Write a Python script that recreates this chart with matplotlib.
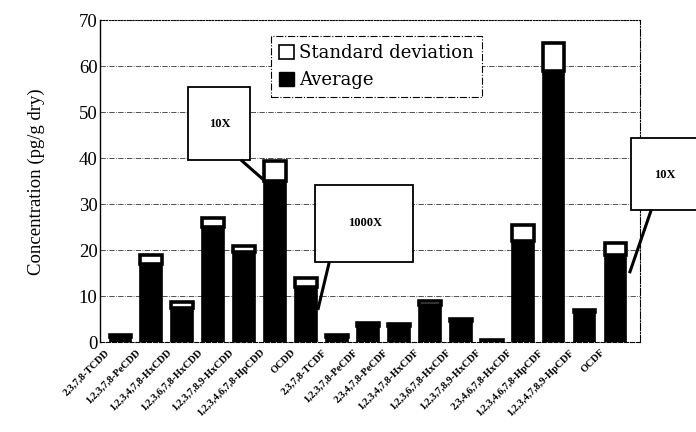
import matplotlib
matplotlib.use("Agg")
import matplotlib.pyplot as plt
from matplotlib.patches import Patch, Rectangle
import matplotlib.transforms as mtransforms
import numpy as np

plt.rcParams['font.family'] = ['Liberation Serif', 'DejaVu Serif']

congeners = ['2,3,7,8-TCDD', '1,2,3,7,8-PeCDD', '1,2,3,4,7,8-HxCDD',
             '1,2,3,6,7,8-HxCDD', '1,2,3,7,8,9-HxCDD', '1,2,3,4,6,7,8-HpCDD',
             'OCDD', '2,3,7,8-TCDF', '1,2,3,7,8-PeCDF', '2,3,4,7,8-PeCDF',
             '1,2,3,4,7,8-HxCDF', '1,2,3,6,7,8-HxCDF', '1,2,3,7,8,9-HxCDF',
             '2,3,4,6,7,8-HxCDF', '1,2,3,4,6,7,8-HpCDF', '1,2,3,4,7,8,9-HpCDF',
             'OCDF']
average = [1.2, 17.0, 7.5, 25.0, 19.5, 35.0, 12.0, 1.2, 3.5, 3.5,
           8.0, 4.5, 0.3, 22.0, 59.0, 6.5, 19.0]
std_dev = [0.4, 2.0, 1.2, 2.0, 1.5, 4.5, 2.0, 0.3, 0.6, 0.5,
           1.0, 0.5, 0.2, 3.5, 6.0, 0.5, 2.5]
yticks = [0, 10, 20, 30, 40, 50, 60, 70]

fig = plt.figure(figsize=(6.96, 4.32), dpi=100)
ax = fig.add_axes([0.144, 0.208, 0.776, 0.745])

x = np.arange(len(congeners))
w = 0.7
ax.bar(x, average, width=w, color='black', edgecolor='black', linewidth=1.2, zorder=3)
ax.bar(x, std_dev, width=w, bottom=average, color='white', edgecolor='black',
       linewidth=2.6, zorder=3)

ax.set_xlim(-0.65, 16.8)
ax.set_ylim(0, 70)
ax.set_yticks(yticks)
ax.set_yticklabels([str(t) for t in yticks], fontsize=13.5)
ax.tick_params(axis='y', length=0, pad=2)
ax.tick_params(axis='x', length=0, pad=4)
ax.set_xticks(x)
ax.set_xticklabels(congeners, rotation=45, ha='right', rotation_mode='anchor',
                   fontsize=7.5, fontweight='bold')
offset = mtransforms.ScaledTranslation(-11 / 72, 0, fig.dpi_scale_trans)
for lab in ax.get_xticklabels():
    lab.set_transform(lab.get_transform() + offset)

ax.yaxis.grid(True, linestyle='-.', color='#333333', linewidth=0.6, zorder=0)
ax.set_axisbelow(True)
ax.spines['left'].set_linewidth(1.0)
ax.spines['bottom'].set_linestyle('--')
ax.spines['bottom'].set_linewidth(0.8)
ax.spines['top'].set_linestyle(':')
ax.spines['top'].set_linewidth(0.8)
ax.spines['right'].set_linestyle('-.')
ax.spines['right'].set_linewidth(0.8)

ax.set_ylabel('Concentration (pg/g dry)', fontsize=13.5, labelpad=24)

handles = [Patch(facecolor='white', edgecolor='black', linewidth=1.2, label='Standard deviation'),
           Patch(facecolor='black', edgecolor='black', label='Average')]
leg = ax.legend(handles=handles, loc='upper left', bbox_to_anchor=(0.3, 0.98),
                prop={'family': 'DejaVu Serif', 'size': 13}, frameon=True,
                fancybox=False, framealpha=1, edgecolor='black',
                handlelength=0.8, handleheight=0.8, handletextpad=0.3,
                borderpad=0.45, labelspacing=0.5)
leg.get_frame().set_linestyle('-.')
leg.get_frame().set_linewidth(0.8)
leg.set_zorder(5)

# callout boxes: (x0, y0, x1, y1) in data units, label, text position, pointer start, pointer end
callouts = [((2.2, 39.6, 4.2, 55.4), '10X', (3.2, 47.5), (3.9, 39.6), (4.85, 34.0)),
            ((6.3, 17.4, 9.45, 34.1), '1000X', (7.9, 26.0), (6.75, 17.4), (6.38, 7.0)),
            ((16.5, 28.7, 18.75, 44.3), '10X', (17.6, 36.3), (17.15, 28.7), (16.45, 15.0))]
for (x0, y0, x1, y1), txt, tpos, p0, p1 in callouts:
    ax.add_patch(Rectangle((x0, y0), x1 - x0, y1 - y0, facecolor='white',
                           edgecolor='black', linewidth=1.3, zorder=6, clip_on=False))
    ax.text(tpos[0], tpos[1], txt, ha='center', va='center', fontsize=9,
            fontweight='bold', zorder=7, clip_on=False)
    ax.plot([p0[0], p1[0]], [p0[1], p1[1]], color='black', linewidth=2.2,
            zorder=6, clip_on=False, solid_capstyle='butt')

fig.savefig('out.png', dpi=100)
